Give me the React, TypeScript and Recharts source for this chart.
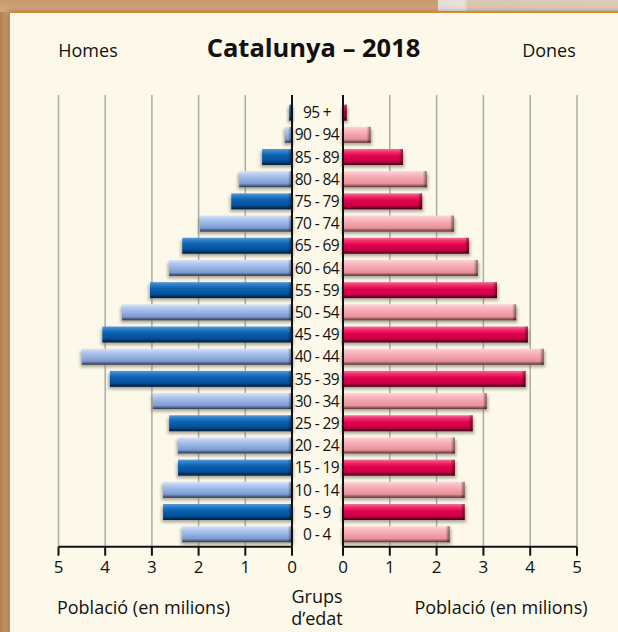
import React from 'react'
import { BarChart, Bar, XAxis, YAxis, CartesianGrid } from 'recharts'

// age groups, top of the pyramid first
const ageGroups = [
    '95 +', '90 - 94', '85 - 89', '80 - 84', '75 - 79', '70 - 74', '65 - 69',
    '60 - 64', '55 - 59', '50 - 54', '45 - 49', '40 - 44', '35 - 39', '30 - 34',
    '25 - 29', '20 - 24', '15 - 19', '10 - 14', '5 - 9', '0 - 4'
]
const homes = [
    0.06, 0.15, 0.64, 1.13, 1.30, 1.97, 2.35, 2.63, 3.04, 3.64,
    4.06, 4.50, 3.90, 2.98, 2.63, 2.44, 2.44, 2.76, 2.76, 2.35
]
const dones = [
    0.08, 0.59, 1.28, 1.79, 1.69, 2.37, 2.69, 2.88, 3.29, 3.70,
    3.95, 4.29, 3.90, 3.07, 2.77, 2.39, 2.39, 2.60, 2.60, 2.28
]
const xTicks = [0, 1, 2, 3, 4, 5]

const data = ageGroups.map((group, i) => ({ group, homes: homes[i], dones: dones[i] }))

const FONT = "'Open Sans', 'Noto Sans', sans-serif"

const gradients: Record<string, string[][]> = {
    'blue-dark': [['0', '#5a9ad8'], ['0.18', '#2a7cc8'], ['0.4', '#0a62b2'], ['0.75', '#044f98'], ['1', '#001a38']],
    'blue-light': [['0', '#d8e4f8'], ['0.2', '#b6ccf0'], ['0.45', '#9ab6e6'], ['0.78', '#7e9ad0'], ['1', '#2c3650']],
    'pink-dark': [['0', '#f4709a'], ['0.2', '#ee2c68'], ['0.45', '#e2004e'], ['0.78', '#c60044'], ['1', '#3a0014']],
    'pink-light': [['0', '#fdd4d8'], ['0.2', '#f9bcc2'], ['0.45', '#f4a6ae'], ['0.78', '#e8929a'], ['1', '#5a3034']],
}

const Defs = ({ side }: { side: string }) => (
    <defs>
        {['dark', 'light'].map((tone) => (
            <linearGradient key={tone} id={`${side}-${tone}`} x1="0" y1="0" x2="0" y2="1">
                {gradients[`${side}-${tone}`].map(([o, c]) => <stop key={o} offset={o} stopColor={c} />)}
            </linearGradient>
        ))}
        <linearGradient id={`${side}-end`} x1="0" y1="0" x2="1" y2="0">
            <stop offset="0" stopColor="#000" stopOpacity={0} />
            <stop offset="1" stopColor="#000" stopOpacity={0.5} />
        </linearGradient>
        <filter id={`${side}-blur`} x="-20%" y="-60%" width="140%" height="220%">
            <feGaussianBlur stdDeviation="1.8" />
        </filter>
    </defs>
)

const PyramidBar = (props: any) => {
    let { x, y, width, height } = props
    const { index, side } = props
    if (!width) return null
    if (width < 0) {
        x += width
        width = -width
    }
    const tone = index % 2 === 0 ? 'dark' : 'light'
    const endW = Math.min(4, width)
    return (
        <g>
            <rect x={x - 1.5} y={y + 2.5} width={width + 3} height={height} fill="#6f6c5c" opacity={0.55} filter={`url(#${side}-blur)`} />
            <rect x={x} y={y} width={width} height={height} fill={`url(#${side}-${tone})`} />
            <rect x={x + width - endW} y={y} width={endW} height={height} fill={`url(#${side}-end)`} />
        </g>
    )
}

const AgeTick = (props: any) => {
    const { y, payload } = props
    return (
        <text x={26} y={y} dy="0.36em" textAnchor="middle" fontFamily={FONT} fontSize={15.5}
            letterSpacing={-0.6} fill="#111">
            {payload.value}
        </text>
    )
}

const axisStyle = { stroke: '#111', strokeWidth: 2 }
const tickStyle = { fontFamily: FONT, fontSize: 17, fill: '#111' }

const App = () => {
    return (
        <div style={{ position: 'absolute', left: 0, top: 0, width: 618, height: 632, overflow: 'hidden', background: 'linear-gradient(90deg, #b27e4e 0px, #c8a078 8px)' }}>
            <div style={{ position: 'absolute', left: 0, top: 0, width: 618, height: 12, background: 'linear-gradient(180deg, #c89a6c, #d2a87e)' }} />
            <div style={{ position: 'absolute', left: 438, top: 0, width: 180, height: 11, background: 'linear-gradient(90deg, #e4dcd4 0px, #e8e2da 26px, #d9c6b2 30px, #dccbb8 180px)' }} />
            <div style={{ position: 'absolute', left: 9, top: 12, width: 640, height: 640, background: '#fcf9ea', borderTop: '1px solid #d98a36', borderLeft: '1px solid #d98a36', boxShadow: '0 0 5px rgba(90,50,10,0.55)' }} />

            {/* Homes */}
            <div style={{ position: 'absolute', left: 0, top: 0 }}>
                <BarChart
                    width={300}
                    height={600}
                    data={data}
                    layout="vertical"
                    margin={{ top: 95, right: 6.5, left: 58.5, bottom: 23.3 }}
                >
                    <Defs side="blue" />
                    <CartesianGrid horizontal={false} stroke="#aeaca0" strokeWidth={1.5} />
                    <XAxis type="number" domain={[0, 5]} ticks={xTicks} reversed height={30} interval={0}
                        axisLine={axisStyle} tickLine={axisStyle} tickSize={9} tickMargin={5} tick={tickStyle} />
                    <YAxis type="category" dataKey="group" orientation="right" width={1.5}
                        padding={{ top: 6.6, bottom: 1.3 }} axisLine={axisStyle} tick={false} tickLine={false} />
                    <Bar dataKey="homes" barSize={16} isAnimationActive={false}
                        shape={(p: any) => <PyramidBar {...p} side="blue" />} />
                </BarChart>
            </div>

            {/* Dones */}
            <div style={{ position: 'absolute', left: 291, top: 0 }}>
                <BarChart
                    width={290}
                    height={600}
                    data={data}
                    layout="vertical"
                    margin={{ top: 95, right: 4, left: 0, bottom: 23.3 }}
                >
                    <Defs side="pink" />
                    <CartesianGrid horizontal={false} stroke="#aeaca0" strokeWidth={1.5} />
                    <XAxis type="number" domain={[0, 5]} ticks={xTicks} height={30} interval={0}
                        axisLine={axisStyle} tickLine={axisStyle} tickSize={9} tickMargin={5} tick={tickStyle} />
                    <YAxis type="category" dataKey="group" orientation="left" width={52} interval={0}
                        padding={{ top: 6.6, bottom: 1.3 }} axisLine={axisStyle} tick={<AgeTick />} tickLine={false} />
                    <Bar dataKey="dones" barSize={16} isAnimationActive={false}
                        shape={(p: any) => <PyramidBar {...p} side="pink" />} />
                </BarChart>
            </div>

            <svg width={618} height={632} style={{ position: 'absolute', left: 0, top: 0, pointerEvents: 'none' }}>
                <g fontFamily={FONT} fill="#111" textAnchor="middle">
                    <text x={313.5} y={56.5} fontSize={25.5} fontWeight="bold">Catalunya – 2018</text>
                    <text x={88} y={57} fontSize={18}>Homes</text>
                    <text x={549} y={57} fontSize={18}>Dones</text>
                    <text x={143.5} y={613.5} fontSize={18}>Població (en milions)</text>
                    <text x={501} y={613.5} fontSize={18}>Població (en milions)</text>
                    <text x={317} y={603} fontSize={18}>Grups</text>
                    <text x={317} y={625} fontSize={18}>d’edat</text>
                </g>
            </svg>
        </div>
    )
}

export default App
